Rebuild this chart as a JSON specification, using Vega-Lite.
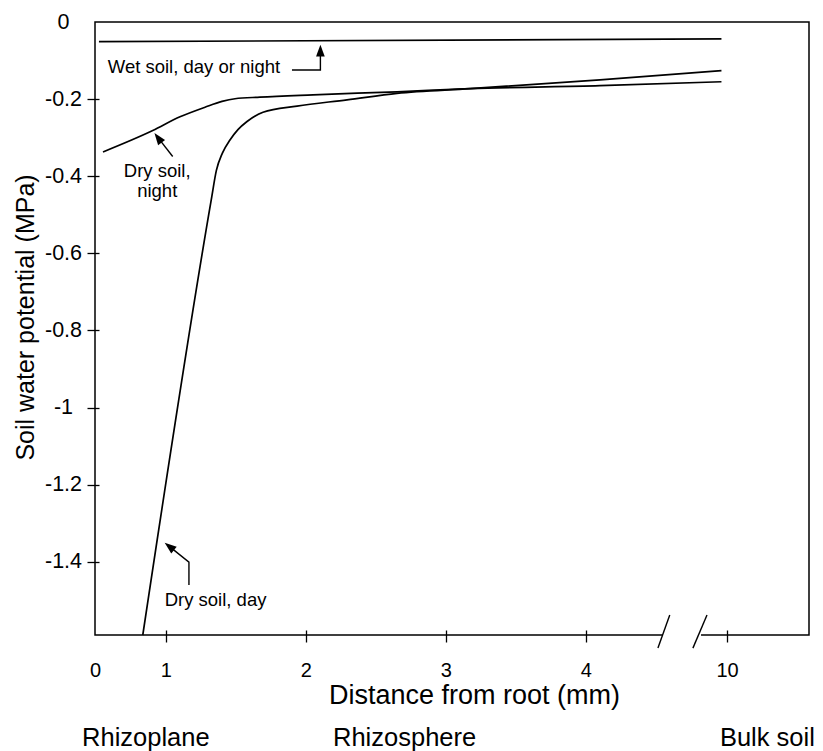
{
  "$schema": "https://vega.github.io/schema/vega-lite/v6.json",
  "width": 714,
  "height": 613,
  "autosize": "none",
  "padding": {"left": 95, "top": 22, "right": 14, "bottom": 116},
  "background": "white",
  "config": {
    "view": {"stroke": "black", "strokeWidth": 1.5},
    "font": "Liberation Sans",
    "axis": {"grid": false, "domain": false, "labelColor": "black", "titleColor": "black", "labelFont": "Liberation Sans", "titleFont": "Liberation Sans", "titleFontWeight": "normal", "tickWidth": 1.3}
  },
  "datasets": {
    "curves": [
      {"s": "wet", "i": 0, "d": 0.056, "p": -0.051},
      {"s": "wet", "i": 1, "d": 9.96, "p": -0.044},
      {"s": "night", "i": 0, "d": 0.113, "p": -0.337},
      {"s": "night", "i": 1, "d": 0.817, "p": -0.2815},
      {"s": "night", "i": 2, "d": 1.102, "p": -0.246},
      {"s": "night", "i": 3, "d": 1.281, "p": -0.221},
      {"s": "night", "i": 4, "d": 1.402, "p": -0.206},
      {"s": "night", "i": 5, "d": 1.495, "p": -0.199},
      {"s": "night", "i": 6, "d": 1.673, "p": -0.195},
      {"s": "night", "i": 7, "d": 2.052, "p": -0.189},
      {"s": "night", "i": 8, "d": 2.652, "p": -0.181},
      {"s": "night", "i": 9, "d": 3.174, "p": -0.173},
      {"s": "night", "i": 10, "d": 4.102, "p": -0.165},
      {"s": "night", "i": 11, "d": 9.96, "p": -0.155},
      {"s": "day", "i": 0, "d": 0.676, "p": -1.59},
      {"s": "day", "i": 1, "d": 1.325, "p": -0.462},
      {"s": "day", "i": 2, "d": 1.362, "p": -0.385},
      {"s": "day", "i": 3, "d": 1.405, "p": -0.34},
      {"s": "day", "i": 4, "d": 1.459, "p": -0.306},
      {"s": "day", "i": 5, "d": 1.516, "p": -0.279},
      {"s": "day", "i": 6, "d": 1.581, "p": -0.258},
      {"s": "day", "i": 7, "d": 1.695, "p": -0.234},
      {"s": "day", "i": 8, "d": 1.938, "p": -0.218},
      {"s": "day", "i": 9, "d": 2.295, "p": -0.202},
      {"s": "day", "i": 10, "d": 2.652, "p": -0.185},
      {"s": "day", "i": 11, "d": 3.174, "p": -0.173},
      {"s": "day", "i": 12, "d": 4.102, "p": -0.15},
      {"s": "day", "i": 13, "d": 9.96, "p": -0.126}
    ],
    "shafts": [
      {"s": "wet", "i": 0, "d": 1.902, "p": -0.1245},
      {"s": "wet", "i": 1, "d": 2.105, "p": -0.1245},
      {"s": "wet", "i": 2, "d": 2.105, "p": -0.088},
      {"s": "night", "i": 0, "d": 1.05, "p": -0.349},
      {"s": "night", "i": 1, "d": 0.913, "p": -0.305},
      {"s": "day", "i": 0, "d": 1.166, "p": -1.46},
      {"s": "day", "i": 1, "d": 1.166, "p": -1.401},
      {"s": "day", "i": 2, "d": 1.039, "p": -1.364}
    ],
    "heads": [
      {"s": "wet", "d": 2.105, "p": -0.0794},
      {"s": "night", "d": 0.908, "p": -0.3045},
      {"s": "day", "d": 1.037, "p": -1.3636}
    ],
    "notes": [
      {"t": ["Wet soil, day or night"], "d": 1.202, "p": -0.133},
      {"t": ["Dry soil,", "night"], "d": 0.88, "p": -0.403},
      {"t": ["Dry soil, day"], "d": 1.356, "p": -1.515}
    ],
    "zones": [
      {"t": "Rhizoplane", "d": -0.183, "p": -1.877},
      {"t": "Rhizosphere", "d": 2.195, "p": -1.877},
      {"t": "Bulk soil", "d": 9.949, "p": -1.877}
    ],
    "cover": [
      {"d": 4.57, "d2": 9.69, "p": -1.59}
    ],
    "slashes": [
      {"d": 4.516, "d2": 5.496, "p": -1.624, "p2": -1.538},
      {"d": 8.6, "d2": 9.856, "p": -1.624, "p2": -1.538}
    ]
  },
  "encoding": {
    "x": {
      "field": "d",
      "type": "quantitative",
      "scale": {"domain": [0, 1, 4.55, 9.82, 10.59], "range": [0, 70.7, 567.7, 607, 714], "nice": false, "zero": false},
      "axis": {
        "orient": "bottom",
        "values": [0, 1, 2, 3, 4, 10],
        "format": "d",
        "offset": -5,
        "tickSize": 12,
        "tickColor": {"condition": {"test": "datum.value == 0", "value": "transparent"}, "value": "black"},
        "labelFontSize": 20,
        "labelBaseline": "alphabetic",
        "labelPadding": 34,
        "labelFlush": false,
        "labelOverlap": false,
        "title": "Distance from root (mm)",
        "titleFontSize": 27,
        "titleX": 379,
        "titleY": 73,
        "titleAlign": "center",
        "titleBaseline": "alphabetic"
      }
    },
    "y": {
      "field": "p",
      "type": "quantitative",
      "scale": {"domain": [-1.59, 0], "nice": false, "zero": false},
      "axis": {
        "orient": "left",
        "values": [0, -0.2, -0.4, -0.6, -0.8, -1, -1.2, -1.4],
        "labelExpr": "datum.value == 0 ? '0' : '-' + format(-datum.value, '~g')",
        "offset": -4,
        "tickSize": 12,
        "tickColor": {"condition": {"test": "datum.value == 0", "value": "transparent"}, "value": "black"},
        "labelFontSize": 21.5,
        "labelAlign": "center",
        "labelBaseline": "middle",
        "labelPadding": 24,
        "labelOverlap": false,
        "labelFlush": false,
        "title": "Soil water potential (MPa)",
        "titleFontSize": 25,
        "titleAngle": -90,
        "titleX": -66,
        "titleY": 295,
        "titleAlign": "center",
        "titleBaseline": "alphabetic"
      }
    }
  },
  "layer": [
    {
      "data": {"name": "curves"},
      "mark": {"type": "line", "color": "black", "strokeWidth": 1.7, "interpolate": "monotone"},
      "encoding": {"detail": {"field": "s"}, "order": {"field": "i", "type": "quantitative"}}
    },
    {
      "data": {"name": "shafts"},
      "mark": {"type": "line", "color": "black", "strokeWidth": 1.4},
      "encoding": {"detail": {"field": "s"}, "order": {"field": "i", "type": "quantitative"}}
    },
    {
      "data": {"name": "heads"},
      "transform": [{"filter": "datum.s == 'wet'"}],
      "mark": {"type": "point", "filled": true, "color": "black", "opacity": 1, "strokeWidth": 0, "size": 250, "angle": 0, "shape": "M0,-1L0.55,0.5L-0.55,0.5Z"}
    },
    {
      "data": {"name": "heads"},
      "transform": [{"filter": "datum.s == 'night'"}],
      "mark": {"type": "point", "filled": true, "color": "black", "opacity": 1, "strokeWidth": 0, "size": 250, "angle": -37, "shape": "M0,-1L0.55,0.5L-0.55,0.5Z"}
    },
    {
      "data": {"name": "heads"},
      "transform": [{"filter": "datum.s == 'day'"}],
      "mark": {"type": "point", "filled": true, "color": "black", "opacity": 1, "strokeWidth": 0, "size": 250, "angle": -51.6, "shape": "M0,-1L0.55,0.5L-0.55,0.5Z"}
    },
    {
      "data": {"name": "notes"},
      "mark": {"type": "text", "color": "black", "fontSize": 18.5, "align": "center", "baseline": "alphabetic", "lineHeight": 19.5},
      "encoding": {"text": {"field": "t"}}
    },
    {
      "data": {"name": "zones"},
      "mark": {"type": "text", "color": "black", "fontSize": 25.5, "align": "left", "baseline": "alphabetic"},
      "encoding": {"text": {"field": "t"}}
    },
    {
      "data": {"name": "cover"},
      "mark": {"type": "rule", "color": "white", "strokeWidth": 5},
      "encoding": {"x2": {"field": "d2"}}
    },
    {
      "data": {"name": "slashes"},
      "mark": {"type": "rule", "color": "black", "strokeWidth": 1.4},
      "encoding": {"x2": {"field": "d2"}, "y2": {"field": "p2"}}
    }
  ]
}
